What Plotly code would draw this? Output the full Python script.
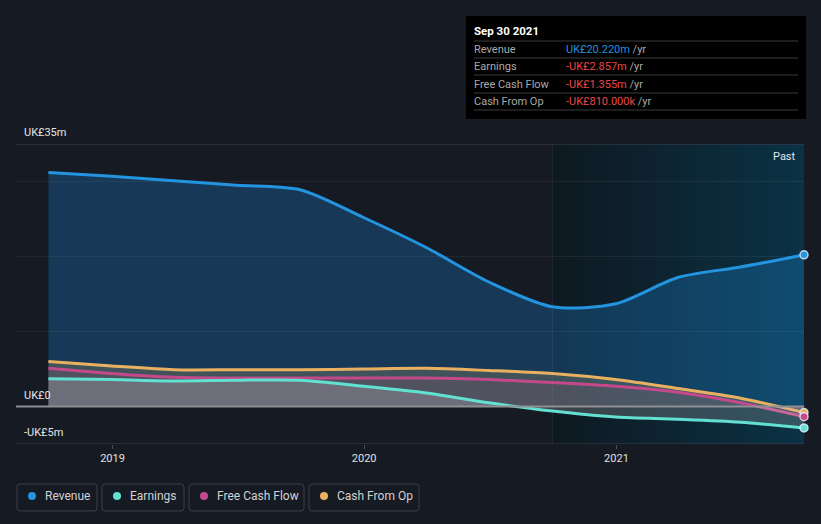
import plotly.graph_objects as go
import datetime as dt

dates = ["2018-09-30", "2018-12-31", "2019-03-31", "2019-06-30", "2019-09-30",
         "2019-12-31", "2020-03-31", "2020-06-30", "2020-09-30", "2020-12-31",
         "2021-03-31", "2021-06-30", "2021-09-30"]
revenue = [31.2, 30.7, 30.1, 29.5, 28.9, 25.2, 21.2, 16.6, 13.3, 13.7, 17.2, 18.6, 20.22]
earnings = [3.7, 3.6, 3.4, 3.5, 3.5, 2.7, 1.8, 0.5, -0.6, -1.4, -1.7, -2.1, -2.857]
fcf = [5.1, 4.4, 3.9, 3.8, 3.8, 3.8, 3.8, 3.6, 3.2, 2.7, 1.9, 0.5, -1.355]
cfo = [6.0, 5.4, 4.9, 4.9, 4.9, 5.0, 5.1, 4.8, 4.4, 3.6, 2.4, 1.1, -0.81]

series_names = ["Revenue", "Earnings", "Free Cash Flow", "Cash From Op"]
series_colors = ["#2394df", "#62e0d2", "#c4498a", "#e9b060"]
tooltip_date = "Sep 30 2021"
tooltip_values = ["UK£20.220m", "-UK£2.857m", "-UK£1.355m", "-UK£810.000k"]
ytick_labels = {35: "UK£35m", 0: "UK£0", -5: "-UK£5m"}
past_start = "2020-09-30"

W, H = 821, 524
L, R, T, B = 16, 17, 144, 80
PW, PH = W - L - R, H - T - B

def px(x):
    return (x - L) / PW

def py(y):
    return (H - B - y) / PH

BG = "#151a23"
fig = go.Figure()

fills = {
    "Revenue": "rgba(33,150,243,0.25)",
    "Cash From Op": "rgba(230,190,110,0.2)",
    "Free Cash Flow": "rgba(200,80,130,0.12)",
    "Earnings": "rgba(225,225,225,0.2)",
}
data_map = {"Revenue": revenue, "Earnings": earnings, "Free Cash Flow": fcf, "Cash From Op": cfo}
color_map = dict(zip(series_names, series_colors))
for name in ["Revenue", "Cash From Op", "Free Cash Flow", "Earnings"]:
    fig.add_trace(go.Scatter(
        x=dates, y=data_map[name], mode="lines", name=name,
        line=dict(color=color_map[name], width=3, shape="spline", smoothing=0.8),
        fill="tozeroy", fillcolor=fills[name], hoverinfo="skip", showlegend=False))
for name in ["Revenue", "Cash From Op", "Free Cash Flow", "Earnings"]:
    fig.add_trace(go.Scatter(
        x=[dates[-1]], y=[data_map[name][-1]], mode="markers",
        marker=dict(size=8, color=color_map[name], line=dict(color="rgba(230,240,250,0.8)", width=1.5)),
        hoverinfo="skip", showlegend=False, cliponaxis=False))

shapes = []
N = 30
c0 = (15, 25, 33)
c1 = (10, 50, 68)
d0 = dt.date.fromisoformat(past_start)
d1 = dt.date.fromisoformat(dates[-1])
span = (d1 - d0).days
for i in range(N):
    f = i / (N - 1)
    col = tuple(int(round(c0[k] + (c1[k] - c0[k]) * f)) for k in range(3))
    xa = d0 + dt.timedelta(days=span * i / N)
    xb = d0 + dt.timedelta(days=span * (i + 1) / N + 1)
    shapes.append(dict(type="rect", xref="x", yref="paper", x0=str(xa), x1=str(xb), y0=0, y1=1,
                       fillcolor="rgb(%d,%d,%d)" % col, line=dict(width=0), layer="below"))
shapes.append(dict(type="line", xref="x", yref="paper", x0=past_start, x1=past_start, y0=0, y1=1,
                   line=dict(color="rgba(255,255,255,0.07)", width=1), layer="below"))
shapes.append(dict(type="line", xref="paper", yref="y", x0=0, x1=1, y0=35, y1=35,
                   line=dict(color="#3e434c", width=1), layer="above"))
shapes.append(dict(type="line", xref="paper", yref="y", x0=0, x1=1, y0=0, y1=0,
                   line=dict(color="#8d8f94", width=2), layer="above"))
shapes.append(dict(type="line", xref="paper", yref="y", x0=0, x1=1, y0=-5, y1=-5,
                   line=dict(color="#40454e", width=1), layer="above"))

annotations = []
for v, t in ytick_labels.items():
    annotations.append(dict(xref="paper", yref="y", x=px(22), y=v, text=t, showarrow=False,
                            xanchor="left", yanchor="bottom", yshift=3,
                            font=dict(size=11, color="#e6e6e6", family="Roboto")))
annotations.append(dict(xref="paper", yref="paper", x=px(798), y=py(156), text="Past", showarrow=False,
                        xanchor="right", yanchor="middle", font=dict(size=11, color="#e6e6e6", family="Roboto")))

shapes.append(dict(type="rect", xref="paper", yref="paper", x0=px(466), x1=px(806), y0=py(16), y1=py(119),
                   fillcolor="#000000", line=dict(width=0), layer="above"))
annotations.append(dict(xref="paper", yref="paper", x=px(472), y=py(31), text="<b>" + tooltip_date + "</b>",
                        showarrow=False, xanchor="left", yanchor="middle",
                        font=dict(size=11.5, color="#ffffff", family="Roboto")))
row_y = [49, 66, 84, 101]
sep_y = [41, 58, 75, 93, 110]
for sy in sep_y:
    shapes.append(dict(type="line", xref="paper", yref="paper", x0=px(474), x1=px(798), y0=py(sy), y1=py(sy),
                       line=dict(color="#3a3a3a", width=1), layer="above"))
for i, (name, val) in enumerate(zip(series_names, tooltip_values)):
    vc = "#2394df" if not val.startswith("-") else "#ec4646"
    annotations.append(dict(xref="paper", yref="paper", x=px(472), y=py(row_y[i]), text=name,
                            showarrow=False, xanchor="left", yanchor="middle",
                            font=dict(size=11, color="#a9a9a9", family="Roboto")))
    annotations.append(dict(xref="paper", yref="paper", x=px(564), y=py(row_y[i]),
                            text="<span style='color:%s'>%s</span> /yr" % (vc, val),
                            showarrow=False, xanchor="left", yanchor="middle",
                            font=dict(size=11, color="#a9a9a9", family="Roboto")))

def rounded(x0, y0, x1, y1, r=3):
    X0, X1 = px(x0), px(x1)
    Y0, Y1 = py(y0), py(y1)
    rx, ry = r / PW, r / PH
    return ("M %f,%f L %f,%f Q %f,%f %f,%f L %f,%f Q %f,%f %f,%f L %f,%f Q %f,%f %f,%f L %f,%f Q %f,%f %f,%f Z" % (
        X0 + rx, Y0, X1 - rx, Y0, X1, Y0, X1, Y0 - ry, X1, Y1 + ry, X1, Y1, X1 - rx, Y1,
        X0 + rx, Y1, X0, Y1, X0, Y1 + ry, X0, Y0 - ry, X0, Y0, X0 + rx, Y0))

leg_boxes = [(17, 97), (102, 184), (189, 304), (309, 419)]
for (bx0, bx1), name, col in zip(leg_boxes, series_names, series_colors):
    shapes.append(dict(type="path", xref="paper", yref="paper", path=rounded(bx0, 484, bx1, 511),
                       line=dict(color="#3b4049", width=1), fillcolor="rgba(0,0,0,0)", layer="above"))
    shapes.append(dict(type="circle", xref="paper", yref="paper",
                       x0=px(bx0 + 11), x1=px(bx0 + 19), y0=py(492), y1=py(500),
                       fillcolor=col, line=dict(width=0), layer="above"))
    annotations.append(dict(xref="paper", yref="paper", x=px(bx0 + 26), y=py(496), text=name,
                            showarrow=False, xanchor="left", yanchor="middle",
                            font=dict(size=12, color="#d2d2d2", family="Roboto")))

fig.update_layout(
    width=W, height=H, margin=dict(l=L, r=R, t=T, b=B),
    paper_bgcolor=BG, plot_bgcolor=BG,
    showlegend=False, hovermode=False,
    shapes=shapes, annotations=annotations,
    xaxis=dict(type="date", range=["2018-08-14", "2021-09-30"], showgrid=False, zeroline=False,
               tickvals=["2019-01-01", "2020-01-01", "2021-01-01"], ticktext=["2019", "2020", "2021"],
               ticks="outside", ticklen=4, tickcolor="#4a4f58", showline=False,
               tickfont=dict(size=11, color="#e0e0e0", family="Roboto")),
    yaxis=dict(range=[-5, 35], showticklabels=False, zeroline=False, showline=False,
               tickvals=[10, 20, 30], gridcolor="rgba(255,255,255,0.06)", gridwidth=1),
)

fig.write_html("out.html")
